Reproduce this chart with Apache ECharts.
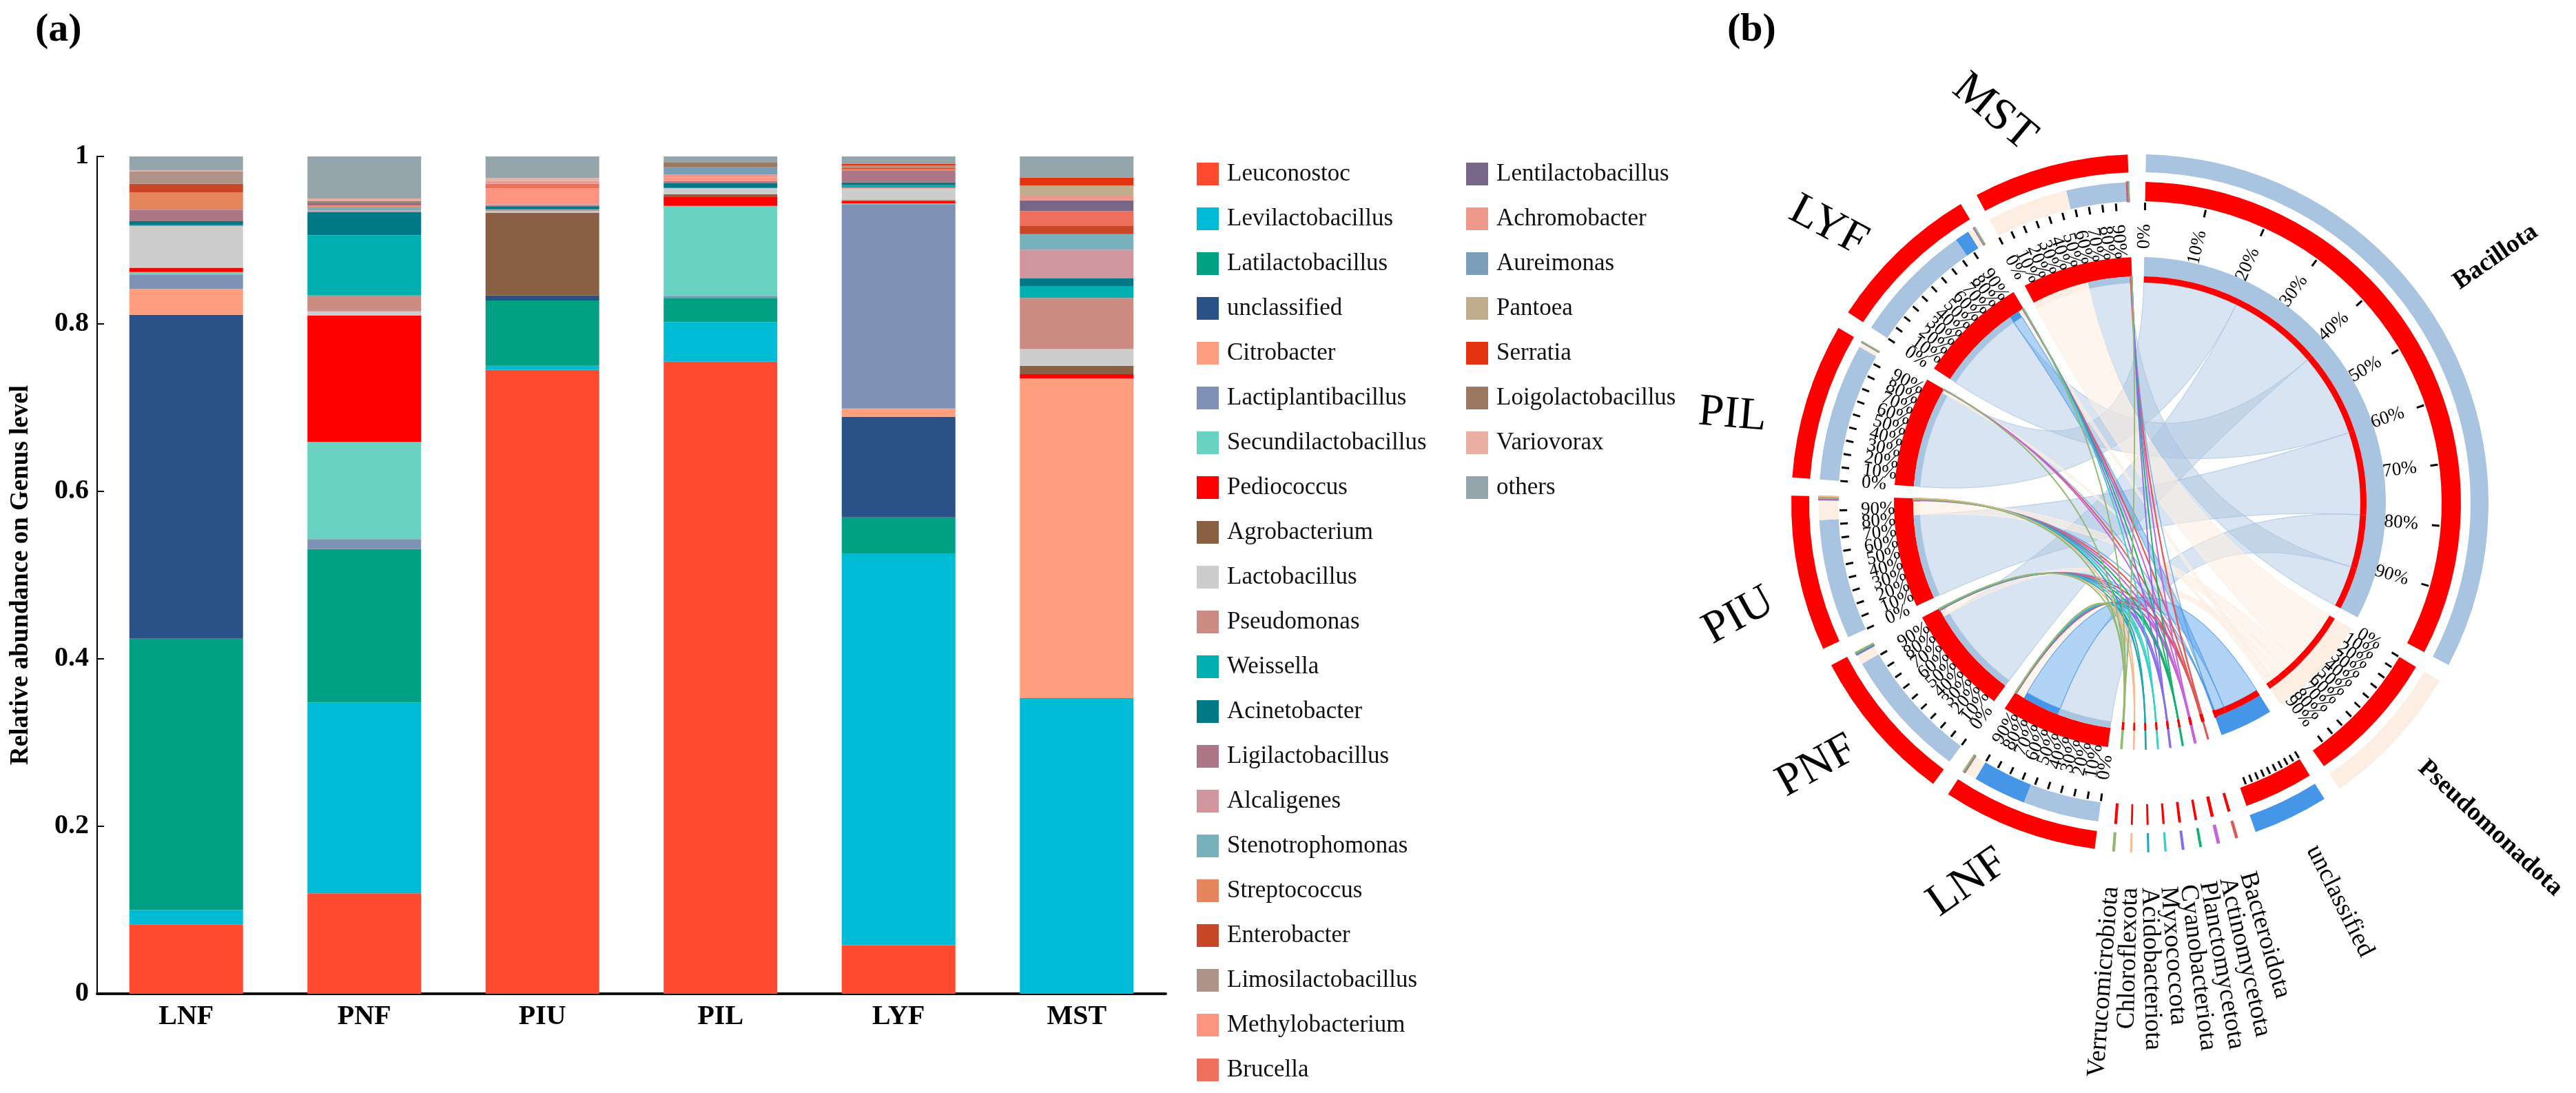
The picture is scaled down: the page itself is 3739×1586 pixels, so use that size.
<!DOCTYPE html>
<html>
<head>
<meta charset="utf-8">
<script src="https://cdn.jsdelivr.net/npm/echarts@6.0.0/dist/echarts.min.js"></script>
<style>
  html, body { margin: 0; padding: 0; background: #fff; }
  #main { width: 3739px; height: 1586px; }
</style>
</head>
<body>
<div id="main"></div>
<script>
"use strict";

/* ---------- data: (a) genus level, stacked bars ---------- */
const samples = ["LNF", "PNF", "PIU", "PIL", "LYF", "MST"];

const genera = [
    "Leuconostoc", "Levilactobacillus", "Latilactobacillus", "unclassified", "Citrobacter",
    "Lactiplantibacillus", "Secundilactobacillus", "Pediococcus", "Agrobacterium", "Lactobacillus",
    "Pseudomonas", "Weissella", "Acinetobacter", "Ligilactobacillus", "Alcaligenes",
    "Stenotrophomonas", "Streptococcus", "Enterobacter", "Limosilactobacillus", "Methylobacterium",
    "Brucella", "Lentilactobacillus", "Achromobacter", "Aureimonas", "Pantoea",
    "Serratia", "Loigolactobacillus", "Variovorax", "others"
];

const generaColors = [
    "#FF4A30", "#00BBD5", "#00A084", "#2A5289", "#FF9F80",
    "#7F91B4", "#6AD2C0", "#FF0000", "#8A6045", "#CDCDCD",
    "#CC8B83", "#00B0B0", "#007886", "#AD7686", "#D0969D",
    "#78B0BC", "#E5865F", "#C94727", "#AE9487", "#FF9580",
    "#EE6F5C", "#786689", "#EC998C", "#7A9EB8", "#C0AD8E",
    "#E3340F", "#9A7862", "#E8AFA4", "#94A6AC"
];

// relative abundance per sample, same order as `genera`
const lnf = [0.083, 0.017, 0.324, 0.387, 0.031, 0.017, 0.003, 0.005, 0, 0.050,
             0, 0.001, 0.0047, 0.013, 0.001, 0, 0.0206, 0.010, 0.0145, 0,
             0, 0, 0, 0, 0, 0, 0, 0.0015, 0.0167];
const pnf = [0.120, 0.228, 0.183, 0, 0, 0.012, 0.116, 0.151, 0, 0.005,
             0.019, 0.072, 0.0274, 0.0005, 0.0014, 0.004, 0, 0.0005, 0.0005, 0,
             0.0016, 0.0025, 0, 0, 0, 0, 0.002, 0.0033, 0.0503];
const piu = [0.745, 0.005, 0.078, 0.006, 0, 0, 0, 0, 0.099, 0.0015,
             0.002, 0.001, 0.003, 0.0015, 0.001, 0, 0, 0, 0, 0.019,
             0.0055, 0, 0.0033, 0, 0, 0, 0, 0.0035, 0.0257];
const pil = [0.755, 0.047, 0.029, 0, 0, 0.002, 0.108, 0.0104, 0.0033, 0.0077,
             0, 0, 0.0055, 0.0027, 0, 0, 0, 0, 0, 0.004,
             0, 0, 0.0036, 0.0088, 0, 0, 0.0063, 0, 0.0067];
const lyf = [0.058, 0.468, 0.043, 0.120, 0.010, 0.244, 0.001, 0.0027, 0.0013, 0.0137,
             0.0013, 0.0027, 0.0033, 0.0137, 0, 0, 0.002, 0.0014, 0.0027, 0,
             0, 0, 0, 0, 0, 0.0022, 0, 0, 0.009];
const mst = [0, 0.353, 0, 0, 0.382, 0, 0, 0.005, 0.010, 0.020,
             0.061, 0.0137, 0.0096, 0, 0.0343, 0.0187, 0, 0.0101, 0, 0,
             0.0173, 0.0129, 0.0055, 0, 0.0123, 0.0096, 0, 0, 0.025];

/* ---------- data: (b) phylum level, chord diagram ---------- */
const phyla = [
    "Bacillota", "Pseudomonadota", "unclassified", "Bacteroidota", "Actinomycetota",
    "Planctomycetota", "Cyanobacteriota", "Myxococcota", "Acidobacteriota",
    "Chloroflexota", "Verrucomicrobiota"
];
const phylaColors = [
    "#A9C4E0", "#FDEEE3", "#4595E8", "#E05858", "#C860E0",
    "#14B070", "#8A6CF0", "#38D0C8", "#22A6B8", "#F8B890", "#92B872"
];
const lnfPhyla = [0.530, 0.085, 0.370, 0.004, 0.002, 0.002, 0.002, 0.001, 0.001, 0.001, 0.002];
const pnfPhyla = [0.910, 0.070, 0.004, 0.003, 0.002, 0.002, 0.002, 0.002, 0.002, 0.001, 0.002];
const piuPhyla = [0.835, 0.140, 0.006, 0.003, 0.003, 0.002, 0.002, 0.002, 0.002, 0.002, 0.003];
const pilPhyla = [0.960, 0.035, 0.002, 0.001, 0.001, 0, 0, 0, 0, 0, 0.001];
const lyfPhyla = [0.845, 0.045, 0.100, 0.003, 0.002, 0.001, 0.002, 0.001, 0, 0, 0.001];
const mstPhyla = [0.420, 0.565, 0.003, 0.006, 0.003, 0.001, 0.001, 0, 0, 0, 0.001];

const sampleRows = [lnf, pnf, piu, pil, lyf, mst];
const phylaRows = [lnfPhyla, pnfPhyla, piuPhyla, pilPhyla, lyfPhyla, mstPhyla];

/* ---------- style ---------- */
const FONT = '"Liberation Serif", "Times New Roman", serif';
const RED = "#FF0000";
const CENTER = [3106, 730];
// radii of the circular tracks (px)
const R = {
    aIn: 480, aOut: 506,        // outer track: sector colour
    bIn: 438, bOut: 466,        // composition track
    tickIn: 425, tickOut: 436, tickLabel: 405,
    cIn: 329, cOut: 357,        // inner grid
    linkIn: 320, linkOut: 329,  // link-end strip
    chord: 320,
    phyLabel: 558, smpLabel: 605
};
const START_ANGLE = 1.0, GAP = 3, SMALL_GAP = 2.7;
const CHORD_ALPHA = [0.45, 0.6, 0.42, 0.85, 0.85, 0.85, 0.85, 0.85, 0.85, 0.85, 0.85];
// label placement tweaks (deg shift along the circle, baseline rotation)
const SMP_LABEL_SHIFT = [4, 1.5, -4, -5, -4.5, -5.5];
const SMP_LABEL_ROT = [35, 29, 29, -5, -28, -40];
const PHY_LABEL_SHIFT = [-4, 0, -1, 0, 0, 0, 0, 0, 0, 0, 0];

function rgba(hex, a) {
    const n = parseInt(hex.slice(1), 16);
    return `rgba(${n >> 16},${(n >> 8) & 255},${n & 255},${a})`;
}

/* ---------- chord layout (angles in degrees, clockwise from top) ---------- */
const sectors = [];
phyla.forEach((name, j) => sectors.push({
    name, kind: "phy", idx: j, color: phylaColors[j],
    total: phylaRows.reduce((s, row) => s + row[j], 0)
}));
samples.forEach((name, i) => sectors.push({
    name, kind: "smp", idx: i, color: RED,
    total: phylaRows[i].reduce((s, v) => s + v, 0)
}));
const isSmall = s => s.kind === "phy" && s.idx >= 3;
const gapAfter = sectors.map((s, k) => {
    const n = sectors[(k + 1) % sectors.length];
    return isSmall(s) && isSmall(n) ? SMALL_GAP : GAP;
});
const unit = (360 - gapAfter.reduce((a, b) => a + b, 0)) /
    sectors.reduce((a, s) => a + s.total, 0);
let ang = START_ANGLE;
sectors.forEach((s, k) => { s.a0 = ang; s.a1 = ang + s.total * unit; ang = s.a1 + gapAfter[k]; });

const links = [];
phylaRows.forEach((row, i) => row.forEach((v, j) => { if (v > 0) links.push({ i, j, v }); }));
// ends inside each sector are sorted by size, largest first
samples.forEach((_, i) => {
    let a = sectors[phyla.length + i].a0;
    links.filter(l => l.i === i).sort((x, y) => y.v - x.v)
        .forEach(l => { l.sa0 = a; a += l.v * unit; l.sa1 = a; });
});
phyla.forEach((_, j) => {
    let a = sectors[j].a0;
    links.filter(l => l.j === j).sort((x, y) => y.v - x.v)
        .forEach(l => { l.pa0 = a; a += l.v * unit; l.pa1 = a; });
});

// annular pieces
const pieces = [];
sectors.forEach(s => {
    pieces.push({ r0: R.aIn, r1: R.aOut, a0: s.a0, a1: s.a1, color: s.color });
    pieces.push({ r0: R.cIn, r1: R.cOut, a0: s.a0, a1: s.a1, color: s.color });
    if (s.kind === "phy") pieces.push({ r0: R.bIn, r1: R.bOut, a0: s.a0, a1: s.a1, color: RED });
});
links.forEach(l => {
    pieces.push({ r0: R.bIn, r1: R.bOut, a0: l.sa0, a1: l.sa1, color: phylaColors[l.j] });
    pieces.push({ r0: R.linkIn, r1: R.linkOut, a0: l.sa0, a1: l.sa1, color: phylaColors[l.j] });
    pieces.push({ r0: R.linkIn, r1: R.linkOut, a0: l.pa0, a1: l.pa1, color: RED });
});

// ticks and labels
const ticks = [], texts = [];
function radialText(text, r, a, outward, size, weight) {
    let phi = ((90 - a) % 360 + 360) % 360;
    const flip = phi > 90 && phi < 270;
    if (flip) phi -= 180;
    // outward: text starts at r and runs away from the centre
    const align = outward ? (flip ? "right" : "left") : (flip ? "left" : "right");
    texts.push({ text, r, a, rot: phi * Math.PI / 180, align, size, weight: weight || "normal" });
}
sectors.forEach(s => {
    if (isSmall(s)) return;
    for (let k = 0; k < 10; k++) {
        const a = s.a0 + (s.a1 - s.a0) * k / 10;
        ticks.push({ a });
        if (!(s.kind === "phy" && s.idx === 2)) radialText(k * 10 + "%", R.tickLabel, a, false, 27);
    }
});
sectors.forEach(s => {
    const mid = (s.a0 + s.a1) / 2;
    if (s.kind === "phy") {
        radialText(s.name, R.phyLabel, mid + PHY_LABEL_SHIFT[s.idx], true, 37, s.idx < 2 ? "bold" : "normal");
    } else {
        texts.push({
            text: s.name, r: R.smpLabel, a: mid + SMP_LABEL_SHIFT[s.idx],
            rot: SMP_LABEL_ROT[s.idx] * Math.PI / 180, align: "center", size: 66, weight: "normal"
        });
    }
});

/* ---------- render helpers (polar coords -> pixels via the polar system) ---------- */
function screenAngle(c, p) { return Math.atan2(p[1] - c[1], p[0] - c[0]); }
function dist(c, p) { return Math.hypot(p[0] - c[0], p[1] - c[1]); }

function renderPiece(params, api) {
    const p = pieces[params.dataIndex];
    const c = api.coord([0, 0]);
    const q0 = api.coord([api.value(0), api.value(1)]);
    const q1 = api.coord([api.value(0), api.value(3)]);
    const q2 = api.coord([api.value(2), api.value(1)]);
    const s = screenAngle(c, q0);
    let e = screenAngle(c, q1);
    if (e < s) e += Math.PI * 2;
    const thin = (api.value(3) - api.value(1)) < 0.5;
    return {
        type: "sector",
        shape: { cx: c[0], cy: c[1], r0: dist(c, q2), r: dist(c, q0), startAngle: s, endAngle: e, clockwise: true },
        style: { fill: p.color, stroke: thin ? p.color : null, lineWidth: thin ? 2 : 0 }
    };
}

function renderChord(params, api) {
    const l = links[params.dataIndex];
    const c = api.coord([0, 0]);
    const P = a => api.coord([R.chord, a]);
    const A0 = P(api.value(1)), A1 = P(api.value(2)), B0 = P(api.value(3)), B1 = P(api.value(4));
    const r = dist(c, A0).toFixed(2);
    const f = p => p[0].toFixed(2) + " " + p[1].toFixed(2);
    const d = `M ${f(A0)} A ${r} ${r} 0 0 1 ${f(A1)} Q ${f(c)} ${f(B0)} ` +
              `A ${r} ${r} 0 0 1 ${f(B1)} Q ${f(c)} ${f(A0)} Z`;
    const col = phylaColors[l.j], al = CHORD_ALPHA[l.j];
    return {
        type: "path",
        shape: { pathData: d },
        style: { fill: rgba(col, al), stroke: rgba(col, Math.min(1, al + 0.25)), lineWidth: l.j >= 3 ? 1.8 : 1.2 }
    };
}

function renderTick(params, api) {
    const p0 = api.coord([R.tickIn, api.value(1)]);
    const p1 = api.coord([R.tickOut, api.value(1)]);
    return {
        type: "line",
        shape: { x1: p0[0], y1: p0[1], x2: p1[0], y2: p1[1] },
        style: { stroke: "#000", lineWidth: 3 }
    };
}

function renderText(params, api) {
    const t = texts[params.dataIndex];
    const p = api.coord([api.value(0), api.value(1)]);
    return {
        type: "text", x: p[0], y: p[1], rotation: t.rot,
        style: {
            text: t.text, fill: "#000", fontSize: t.size, fontFamily: FONT, fontWeight: t.weight,
            align: t.align, verticalAlign: "middle"
        }
    };
}

/* ---------- options ---------- */
const legendBase = {
    orient: "vertical", top: 230, icon: "rect",
    itemWidth: 32, itemHeight: 33, itemGap: 30,
    textStyle: { fontFamily: FONT, fontSize: 35, color: "#111", lineHeight: 33, padding: [0, 0, 0, 7] }
};

const option = {
    animation: false,
    backgroundColor: "#fff",
    textStyle: { fontFamily: FONT },
    title: [
        { text: "(a)", left: 46, top: 10, textStyle: { fontFamily: FONT, fontWeight: "bold", fontSize: 58, color: "#000" } },
        { text: "(b)", left: 2502, top: 10, textStyle: { fontFamily: FONT, fontWeight: "bold", fontSize: 58, color: "#000" } }
    ],
    legend: [
        Object.assign({}, legendBase, { left: 1732, data: genera.slice(0, 21) }),
        Object.assign({}, legendBase, { left: 2123, data: genera.slice(21) })
    ],
    grid: { left: 141, top: 227, width: 1551, height: 1215 },
    xAxis: {
        type: "category", data: samples,
        axisLine: { lineStyle: { color: "#111", width: 4 } },
        axisTick: { inside: true, alignWithLabel: true, length: 18, lineStyle: { color: "#000", width: 2 } },
        axisLabel: { fontFamily: FONT, fontWeight: "bold", fontSize: 40, color: "#000", margin: 14 }
    },
    yAxis: {
        type: "value", min: 0, max: 1, interval: 0.2,
        name: "Relative abundance on Genus level", nameLocation: "middle", nameGap: 92,
        nameTextStyle: { fontFamily: FONT, fontWeight: "bold", fontSize: 37, color: "#000" },
        axisLine: { show: true, lineStyle: { color: "#000", width: 2 } },
        axisTick: { show: true, inside: true, length: 10, lineStyle: { color: "#000", width: 2 } },
        axisLabel: { fontFamily: FONT, fontWeight: "bold", fontSize: 40, color: "#000", margin: 12 },
        splitLine: { show: false }
    },
    polar: { center: CENTER, radius: 700 },
    angleAxis: { type: "value", min: 0, max: 360, startAngle: 90, clockwise: true, show: false },
    radiusAxis: { type: "value", min: 0, max: 700, show: false },
    series: genera.map((g, k) => ({
        name: g, type: "bar", stack: "abundance", barWidth: 165,
        itemStyle: { color: generaColors[k] },
        data: sampleRows.map(row => row[k])
    })).concat([
        {
            type: "custom", coordinateSystem: "polar", z: 3, silent: true,
            encode: { radius: 0, angle: 1 },
            renderItem: renderChord,
            data: links.map(l => [R.chord, l.sa0, l.sa1, l.pa0, l.pa1])
        },
        {
            type: "custom", coordinateSystem: "polar", z: 4, silent: true,
            encode: { radius: 0, angle: 1 },
            renderItem: renderPiece,
            data: pieces.map(p => [p.r1, p.a0, p.r0, p.a1])
        },
        {
            type: "custom", coordinateSystem: "polar", z: 5, silent: true,
            encode: { radius: 0, angle: 1 },
            renderItem: renderTick,
            data: ticks.map(t => [R.tickOut, t.a])
        },
        {
            type: "custom", coordinateSystem: "polar", z: 6, silent: true,
            encode: { radius: 0, angle: 1 },
            renderItem: renderText,
            data: texts.map(t => [t.r, t.a])
        }
    ])
};

const chart = echarts.init(document.getElementById("main"), null, { renderer: "canvas" });
chart.setOption(option);
</script>
</body>
</html>
